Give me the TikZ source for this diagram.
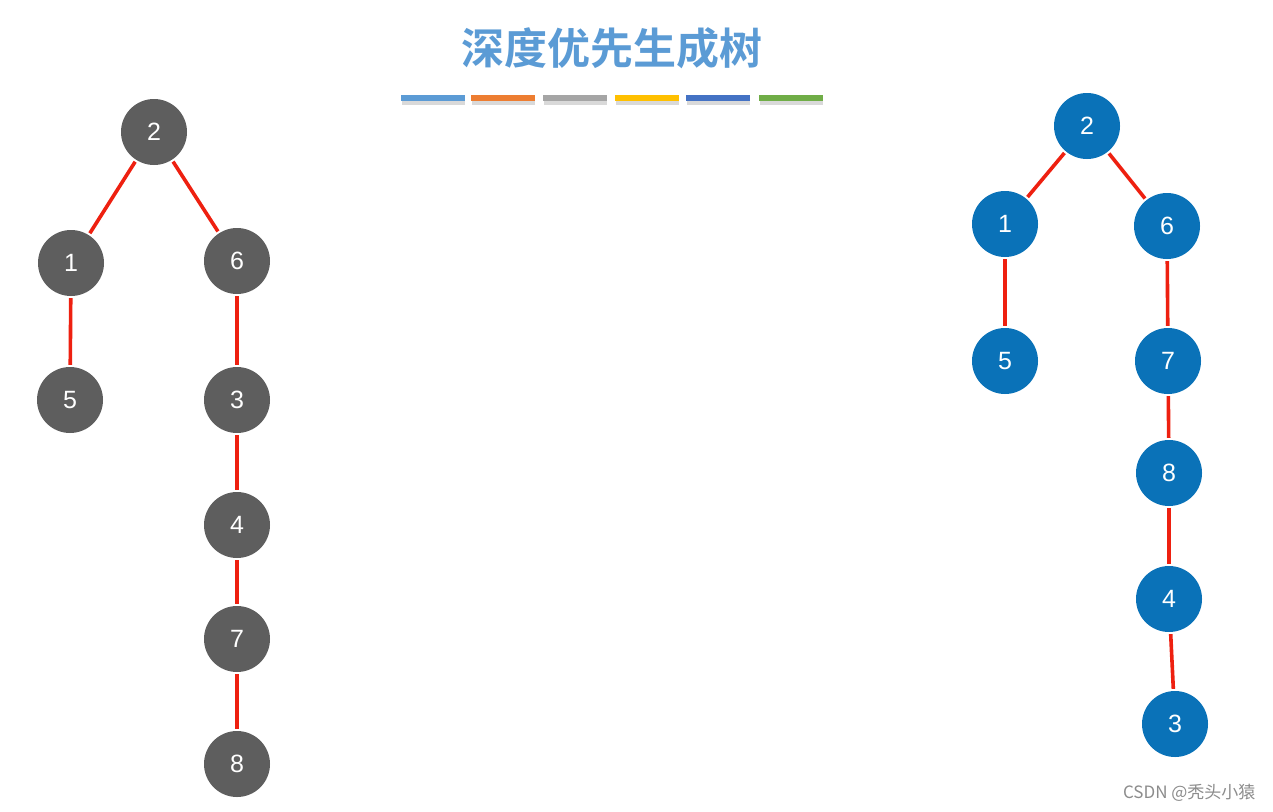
\documentclass[tikz,border=0pt]{standalone}
\usepackage{fontspec}
\setmainfont{Liberation Sans}
\newfontfamily\cjk{Noto Sans CJK SC}
\newfontfamily\cjkb{Noto Sans CJK SC Bold}
\definecolor{nodegray}{HTML}{5E5E5E}
\definecolor{nodeblue}{HTML}{0A72B8}
\definecolor{edgered}{HTML}{EE2010}
\definecolor{titleblue}{HTML}{5B9BD5}
\definecolor{barA}{HTML}{5B9BD5}
\definecolor{barB}{HTML}{ED7D31}
\definecolor{barC}{HTML}{A5A5A5}
\definecolor{barD}{HTML}{FFC000}
\definecolor{barE}{HTML}{4472C4}
\definecolor{barF}{HTML}{70AD47}
\begin{document}
\begin{tikzpicture}[x=1pt,y=-1pt,
  vtx/.style={circle,minimum size=66pt,inner sep=0pt,text=white,font=\fontsize{25}{25}\selectfont},
  gvtx/.style={vtx,fill=nodegray},
  bvtx/.style={vtx,fill=nodeblue},
  tedge/.style={draw=edgered,line width=3.6pt,shorten <=2pt,shorten >=2pt},
  bar/.style={minimum width=64pt,minimum height=6pt,inner sep=0pt,draw=none}]
\useasboundingbox[fill=white] (0,0) rectangle (1273,811);
% title
\node[text=titleblue,font=\cjkb\fontsize{43}{43}\selectfont] (title) at (612,48) {深度优先生成树};
% color bars
\foreach \cx/\c [count=\i] in {432.5/barA,502.5/barB,574.5/barC,646.5/barD,717.5/barE,790.5/barF}{
  \fill[black!15] (\cx-31,100) rectangle (\cx+32,104.5);
  \node[bar,fill=\c] (bar\i) at (\cx,98) {};
}
% left tree
\node[gvtx] (L2) at (154,132) {2};
\node[gvtx] (L1) at (71,263) {1};
\node[gvtx] (L6) at (237,261) {6};
\node[gvtx] (L5) at (70,400) {5};
\node[gvtx] (L3) at (237,400) {3};
\node[gvtx] (L4) at (237,525) {4};
\node[gvtx] (L7) at (237,639) {7};
\node[gvtx] (L8) at (237,764) {8};
\draw[tedge] (L2) -- (L1);
\draw[tedge] (L2) -- (L6);
\draw[tedge] (L1) -- (L5);
\draw[tedge] (L6) -- (L3);
\draw[tedge] (L3) -- (L4);
\draw[tedge] (L4) -- (L7);
\draw[tedge] (L7) -- (L8);
% right tree
\node[bvtx] (R2) at (1087,126) {2};
\node[bvtx] (R1) at (1005,224) {1};
\node[bvtx] (R6) at (1167,226) {6};
\node[bvtx] (R5) at (1005,361) {5};
\node[bvtx] (R7) at (1168,361) {7};
\node[bvtx] (R8) at (1169,473) {8};
\node[bvtx] (R4) at (1169,599) {4};
\node[bvtx] (R3) at (1175,724) {3};
\draw[tedge] (R2) -- (R1);
\draw[tedge] (R2) -- (R6);
\draw[tedge] (R1) -- (R5);
\draw[tedge] (R6) -- (R7);
\draw[tedge] (R7) -- (R8);
\draw[tedge] (R8) -- (R4);
\draw[tedge] (R4) -- (R3);
% watermark
\node[text=black!45,font=\cjk\fontsize{17}{17}\selectfont,anchor=east] (wm) at (1259,793) {CSDN @秃头小猿};
\end{tikzpicture}
\end{document}
